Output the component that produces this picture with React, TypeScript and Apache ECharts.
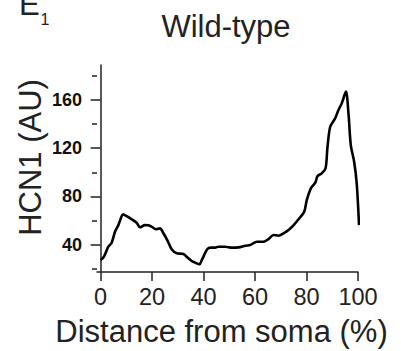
import React, { useEffect, useRef } from "react";
import * as echarts from "echarts";

const xValues = [0, 1.3, 3.0, 4.3, 5.6, 6.9, 8.8, 10.1, 12.1, 14.0, 15.3, 17.2, 18.5, 19.8, 21.5, 23.1, 24.4, 25.9, 27.6, 29.6, 32.2, 33.4, 35.4, 36.7, 38.4, 39.3, 41.5, 42.8, 44.5, 45.8, 48.4, 51.0, 53.6, 56.2, 58.1, 60.7, 63.3, 65.2, 67.2, 69.1, 71.1, 73.0, 75.0, 76.9, 79.1, 80.1, 81.7, 83.4, 84.3, 85.9, 87.4, 88.1, 89.2, 91.1, 92.4, 93.8, 95.3, 96.3, 97.2, 98.5, 99.5, 100.4];
const hcn1Values = [27.2, 30, 38.3, 41.6, 50.7, 56.2, 65.1, 63.7, 61, 58.2, 54.4, 56.2, 56, 54.9, 52.7, 53.5, 49.4, 43.8, 36.1, 32.8, 32.3, 30, 26.4, 25.1, 23.7, 27.2, 36.3, 37.5, 37.5, 38.3, 38.3, 37.5, 37.7, 39.1, 39.7, 42.4, 42.4, 44.6, 48, 47.4, 49.4, 52.1, 56.2, 61, 67.3, 77, 86.7, 91.4, 96.9, 99.1, 103.3, 119.8, 137.8, 144.7, 151.6, 157.8, 166.9, 148.9, 122.6, 108.8, 90.8, 56.2];
const xTicks = [0, 20, 40, 60, 80, 100];
const yMajorTicks = [40, 80, 120, 160];
const yMinorTicks = [20, 60, 100, 140, 180];

const FONT = "'Liberation Sans', Arial, Helvetica, sans-serif";

export default function App() {
  const ref = useRef<HTMLDivElement>(null);
  useEffect(() => {
    if (!ref.current) return;
    const chart = echarts.init(ref.current, null, { renderer: "svg" });
    const yMin = 17.3;
    const yMax = 189;
    chart.setOption({
      animation: false,
      backgroundColor: "#ffffff",
      grid: { left: 97, right: 43, top: 65, bottom: 79, containLabel: false },
      xAxis: {
        type: "value",
        min: -1.4,
        max: 100,
        splitLine: { show: false },
        axisLine: { show: true, lineStyle: { color: "#222", width: 1.5 } },
        axisTick: { show: true, inside: false, length: 9, customValues: xTicks, lineStyle: { color: "#222", width: 1.5 } },
        axisLabel: { show: true, customValues: xTicks, margin: 13, fontSize: 23.5, fontFamily: FONT, color: "#222" },
      },
      yAxis: [
        {
          type: "value",
          min: yMin,
          max: yMax,
          splitLine: { show: false },
          axisLine: { show: true, lineStyle: { color: "#222", width: 1.5 } },
          axisTick: { show: true, length: 10, customValues: yMajorTicks, lineStyle: { color: "#222", width: 1.5 } },
          axisLabel: { show: true, customValues: yMajorTicks, margin: 15, fontSize: 18, fontWeight: "bold", fontFamily: FONT, color: "#111" },
        },
        {
          type: "value",
          min: yMin,
          max: yMax,
          position: "left",
          splitLine: { show: false },
          axisLine: { show: false },
          axisTick: { show: true, length: 5, customValues: yMinorTicks, lineStyle: { color: "#222", width: 1.5 } },
          axisLabel: { show: false },
        },
      ],
      series: [
        {
          type: "line",
          yAxisIndex: 0,
          data: xValues.map((x, i) => [x, hcn1Values[i]]),
          showSymbol: false,
          smooth: 0.3,
          lineStyle: { color: "#000", width: 2.6 },
        },
      ],
      graphic: [
        { type: "text", x: 19, y: 4.5, style: { text: "E", font: `31px ${FONT}`, fill: "#222", textAlign: "left", textVerticalAlign: "middle" } },
        { type: "text", x: 40.5, y: 19.5, style: { text: "1", font: `16px ${FONT}`, fill: "#222", textAlign: "left", textVerticalAlign: "middle" } },
        { type: "text", x: 226, y: 26, style: { text: "Wild-type", font: `31px ${FONT}`, fill: "#222", textAlign: "center", textVerticalAlign: "middle" } },
        { type: "text", x: 30, y: 157.5, rotation: Math.PI / 2, style: { text: "HCN1 (AU)", font: `31px ${FONT}`, fill: "#222", textAlign: "center", textVerticalAlign: "middle" } },
        { type: "text", x: 221.5, y: 331, style: { text: "Distance from soma (%)", font: `31px ${FONT}`, fill: "#222", textAlign: "center", textVerticalAlign: "middle" } },
      ],
    });
    return () => chart.dispose();
  }, []);
  return <div ref={ref} style={{ width: 401, height: 351, position: "absolute", left: 0, top: 0 }} />;
}
